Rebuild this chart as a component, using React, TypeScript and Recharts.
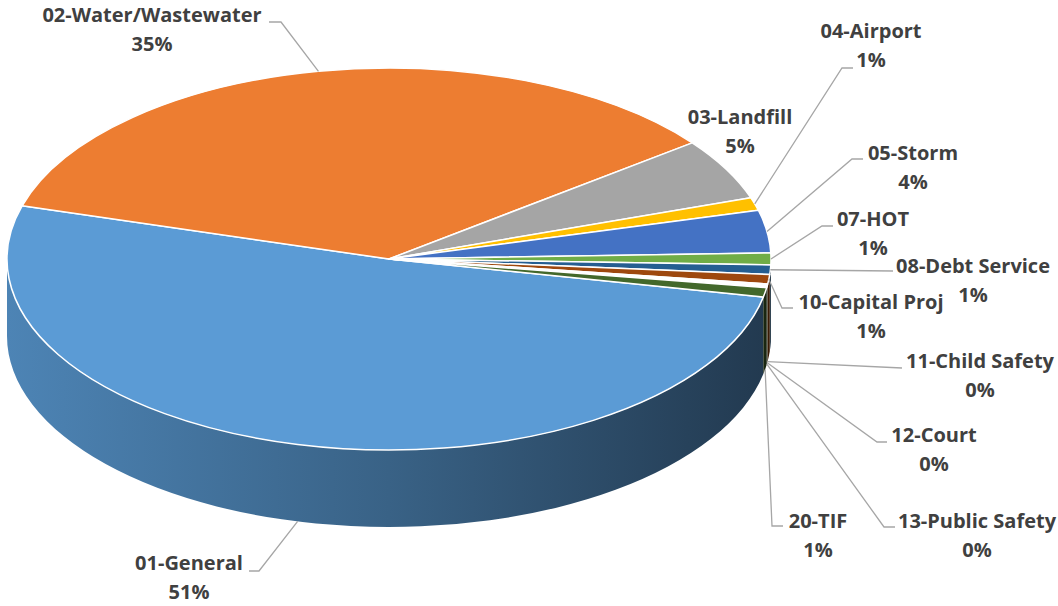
import { PieChart, Pie, Cell } from 'recharts'

const FUNDS = [
  '01-General',
  '02-Water/Wastewater',
  '03-Landfill',
  '04-Airport',
  '05-Storm',
  '07-HOT',
  '08-Debt Service',
  '10-Capital Proj',
  '11-Child Safety',
  '12-Court',
  '13-Public Safety',
  '20-TIF',
]
const SHARES = [51.3, 35.1, 5.2, 1.1, 3.6, 1.0, 0.8, 0.8, 0.1, 0.1, 0.1, 0.8]
const COLORS = [
  '#5B9BD5', '#ED7D31', '#A5A5A5', '#FFC000', '#4472C4', '#70AD47',
  '#255E91', '#9E480E', '#636363', '#997300', '#264478', '#43682B',
]

// where each label sits: text centre (tx, ty), leader elbow (lx, ly), leader end x (ex)
const LABEL_SPOTS = [
  { tx: 189, ty: 563, lx: 259, ly: 571, ex: 249 },
  { tx: 152, ty: 15, lx: 281, ly: 22, ex: 269 },
  { tx: 740, ty: 117 },
  { tx: 871, ty: 31, lx: 842, ly: 68, ex: 853 },
  { tx: 913, ty: 153, lx: 852, ly: 159, ex: 863 },
  { tx: 873, ty: 219, lx: 822, ly: 226, ex: 833 },
  { tx: 973, ty: 266, lx: 893, ly: 271, ex: 893 },
  { tx: 871, ty: 302, lx: 782, ly: 308, ex: 793 },
  { tx: 980, ty: 361, lx: 902, ly: 368, ex: 902 },
  { tx: 934, ty: 435, lx: 877, ly: 442, ex: 887 },
  { tx: 977, ty: 521, lx: 884, ly: 527, ex: 895 },
  { tx: 818, ty: 521, lx: 772, ly: 526, ex: 783 },
]

const W = 1058
const H = 606
const CX = 389
const CY = 259
const RX = 382
const TILT = 0.5 // vertical squash of the disc
const DEPTH = 77 // thickness of the disc
const START = -11.5
const LINE_GAP = 29

const RAD = Math.PI / 180
const TEXT = '#404040'
const LEADER = '#A6A6A6'

const slices = FUNDS.map((name, i) => ({ name, value: SHARES[i] }))

function pt(cx: number, cy: number, rx: number, ry: number, a: number): [number, number] {
  return [cx + rx * Math.cos(a * RAD), cy - ry * Math.sin(a * RAD)]
}

function shade(hex: string, f: number) {
  const n = parseInt(hex.slice(1), 16)
  const c = [(n >> 16) & 255, (n >> 8) & 255, n & 255].map((v) => Math.round(v * f))
  return `rgb(${c[0]},${c[1]},${c[2]})`
}

// top face of a slice, drawn on the squashed ellipse
function TopFace(props: any) {
  const { cx, cy, outerRadius, startAngle, endAngle, fill } = props
  const rx = outerRadius
  const ry = outerRadius * TILT
  const hi = Math.max(startAngle, endAngle)
  const lo = Math.min(startAngle, endAngle)
  const [x1, y1] = pt(cx, cy, rx, ry, hi)
  const [x2, y2] = pt(cx, cy, rx, ry, lo)
  const large = hi - lo > 180 ? 1 : 0
  const d = `M${cx},${cy} L${x1},${y1} A${rx},${ry} 0 ${large} 1 ${x2},${y2} Z`
  return <path d={d} fill={fill} stroke="#fff" strokeWidth={1.5} strokeLinejoin="round" />
}

// outer wall of a slice, only the part that faces the viewer
function SideWall(props: any) {
  const { cx, cy, outerRadius, startAngle, endAngle, fill } = props
  const rx = outerRadius
  const ry = outerRadius * TILT
  const hi = Math.max(startAngle, endAngle)
  const lo = Math.min(startAngle, endAngle)
  const parts: [number, number][] = []
  for (let k = -2; k <= 1; k++) {
    const s = Math.max(lo, 180 + 360 * k)
    const e = Math.min(hi, 360 + 360 * k)
    if (e > s) parts.push([s, e])
  }
  if (!parts.length) return <g />
  const id = `wall-${String(fill).replace('#', '')}`
  return (
    <g>
      <defs>
        <linearGradient id={id} gradientUnits="userSpaceOnUse" x1={cx - rx} x2={cx + rx} y1={0} y2={0}>
          <stop offset="0" stopColor={shade(fill, 0.85)} />
          <stop offset="0.5" stopColor={shade(fill, 0.63)} />
          <stop offset="1" stopColor={shade(fill, 0.37)} />
        </linearGradient>
      </defs>
      {parts.map(([s, e]) => {
        const [ax, ay] = pt(cx, cy, rx, ry, e)
        const [bx, by] = pt(cx, cy, rx, ry, s)
        const d = `M${ax},${ay} A${rx},${ry} 0 0 1 ${bx},${by} L${bx},${by + DEPTH} A${rx},${ry} 0 0 0 ${ax},${ay + DEPTH} Z`
        return <path key={s} d={d} fill={`url(#${id})`} />
      })}
    </g>
  )
}

function renderLabel(props: any) {
  const { cx, cy, outerRadius, midAngle, percent, name, index } = props
  const spot: any = LABEL_SPOTS[index]
  const rx = outerRadius
  const ry = outerRadius * TILT
  let [ax, ay] = pt(cx, cy, rx, ry, midAngle)
  // labels hanging below the disc get their leader from the base edge
  if (spot.ly !== undefined && Math.sin(midAngle * RAD) < 0 && spot.ly >= ay + DEPTH - 2) ay += DEPTH
  const textStyle = { fontFamily: '"Open Sans", sans-serif', fontWeight: 700, fontSize: 20 }
  return (
    <g>
      {spot.lx !== undefined && (
        <polyline
          points={`${ax},${ay} ${spot.lx},${spot.ly} ${spot.ex},${spot.ly}`}
          fill="none"
          stroke={LEADER}
          strokeWidth={1.3}
        />
      )}
      <text x={spot.tx} y={spot.ty + 7} textAnchor="middle" fill={TEXT} style={textStyle}>
        {name}
      </text>
      <text x={spot.tx} y={spot.ty + LINE_GAP + 7} textAnchor="middle" fill={TEXT} style={textStyle}>
        {`${Math.round(percent * 100)}%`}
      </text>
    </g>
  )
}

export default function App() {
  return (
    <div style={{ position: 'absolute', left: 0, top: 0, width: W, height: H, background: '#fff' }}>
      <PieChart width={W} height={H} margin={{ top: 0, right: 0, bottom: 0, left: 0 }}>
        <Pie
          data={slices}
          dataKey="value"
          nameKey="name"
          cx={CX}
          cy={CY}
          outerRadius={RX}
          startAngle={START}
          endAngle={START - 360}
          stroke="none"
          shape={SideWall}
          inactiveShape={SideWall}
          activeShape={SideWall}
          label={false}
          labelLine={false}
          isAnimationActive={false}
        >
          {slices.map((s, i) => (
            <Cell key={s.name} fill={COLORS[i]} />
          ))}
        </Pie>
        <Pie
          data={slices}
          dataKey="value"
          nameKey="name"
          cx={CX}
          cy={CY}
          outerRadius={RX}
          startAngle={START}
          endAngle={START - 360}
          shape={TopFace}
          inactiveShape={TopFace}
          activeShape={TopFace}
          label={renderLabel}
          labelLine={false}
          isAnimationActive={false}
        >
          {slices.map((s, i) => (
            <Cell key={s.name} fill={COLORS[i]} />
          ))}
        </Pie>
      </PieChart>
    </div>
  )
}
